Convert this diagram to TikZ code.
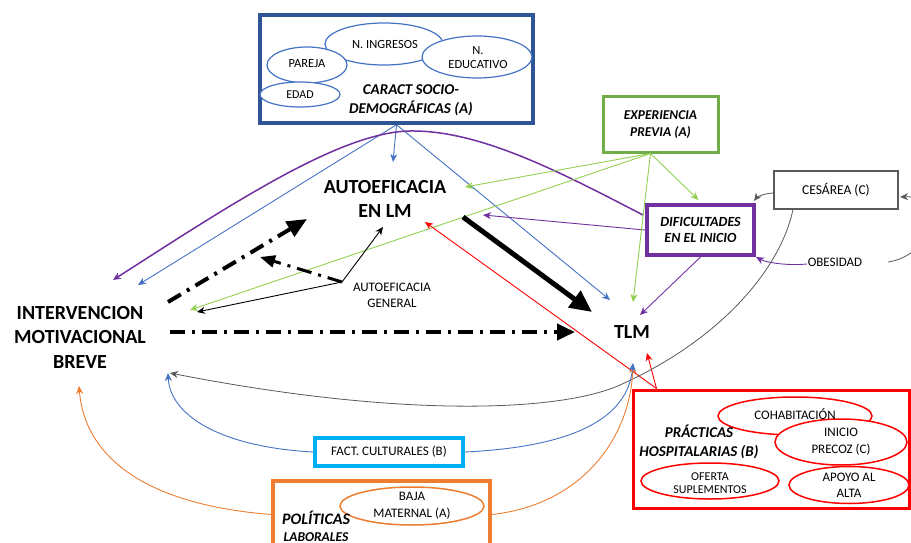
\documentclass[tikz,border=0pt]{standalone}
\usepackage{fontspec}
\setmainfont{Carlito}
\usetikzlibrary{arrows.meta,shapes.geometric,calc}
\definecolor{cdblue}{HTML}{2F5597}
\definecolor{cblue}{HTML}{4472C4}
\definecolor{cgreen}{HTML}{70AD47}
\definecolor{clgreen}{HTML}{92D050}
\definecolor{cpurple}{HTML}{7030A0}
\definecolor{cred}{HTML}{FF0000}
\definecolor{corange}{HTML}{ED7D31}
\definecolor{ccyan}{HTML}{00B0F0}
\definecolor{cgray}{HTML}{595959}
\begin{document}
\begin{tikzpicture}[x=1pt,y=-1pt,
  txt/.style={inner sep=0pt, align=center, text=black},
  sm/.style={txt, font=\fontsize{12.5}{14.5}\selectfont},
  big/.style={txt, font=\bfseries\fontsize{20}{24.5}\selectfont},
  boxx/.style={draw=#1, rectangle, inner sep=0pt, align=center},
  ell/.style={draw=#1, ellipse, fill=white, inner sep=0pt, line width=1.2pt},
  ar/.style={-{Stealth[length=8pt,width=7pt,inset=2.5pt]}, line width=0.9pt},
  dd/.style={dash pattern=on 15pt off 7pt on 3pt off 7pt}
]
\useasboundingbox (0,0) rectangle (911,543);
\clip (0,0) rectangle (911,543);

% ---------- CARACT SOCIO-DEMOGRAFICAS ----------
\node[boxx=cdblue, line width=3.5pt, minimum width=273pt, minimum height=108pt] (caract) at (396.5,69) {};
\node[ell=cblue, minimum width=118pt, minimum height=42pt] (eing) at (384,44) {};
\node[ell=cblue, minimum width=80pt, minimum height=36pt] (epar) at (307,65) {};
\node[ell=cblue, minimum width=110pt, minimum height=42pt] (eedu) at (477,57) {};
\node[ell=cblue, minimum width=80pt, minimum height=25pt] (eedad) at (300,94.5) {};
\node[sm] (ting) at (385,44) {N. INGRESOS};
\node[sm] (tpar) at (307,64) {PAREJA};
\node[sm, font=\fontsize{12.5}{14}\selectfont] (tedu) at (478,58) {N.\\EDUCATIVO};
\node[sm, font=\fontsize{12}{14}\selectfont] (tedad) at (300,95) {EDAD};
\node[txt, font=\bfseries\itshape\fontsize{15}{18.5}\selectfont] (tcar) at (411,100) {CARACT SOCIO-\\DEMOGRÁFICAS (A)};

% ---------- EXPERIENCIA PREVIA ----------
\node[boxx=cgreen, line width=3pt, minimum width=115pt, minimum height=55pt,
      font=\bfseries\itshape\fontsize{13.5}{17}\selectfont] (exp) at (660.5,124.5) {EXPERIENCIA\\PREVIA (A)};

% ---------- DIFICULTADES ----------
\node[boxx=cpurple, line width=4pt, minimum width=107pt, minimum height=50pt,
      font=\bfseries\itshape\fontsize{14}{16.5}\selectfont] (dif) at (700.5,230) {DIFICULTADES\\EN EL INICIO};

% ---------- CESAREA / OBESIDAD ----------
\node[boxx=cgray, line width=1.2pt, minimum width=124pt, minimum height=38pt,
      font=\fontsize{13.5}{16}\selectfont] (ces) at (836,190) {CESÁREA (C)};
\node[txt, font=\fontsize{13}{16}\selectfont] (obes) at (835,262) {OBESIDAD};

% ---------- main nodes ----------
\node[big] (auto) at (385,199) {AUTOEFICACIA\\EN LM};
\node[txt, font=\fontsize{13}{16}\selectfont] (gen) at (392,295) {AUTOEFICACIA\\GENERAL};
\node[big] (int) at (80,337) {INTERVENCION\\MOTIVACIONAL\\BREVE};
\node[big] (tlm) at (632,332) {TLM};

% ---------- FACT CULTURALES ----------
\node[boxx=ccyan, line width=3.5pt, minimum width=148pt, minimum height=28pt,
      font=\fontsize{13}{16}\selectfont] (fact) at (389,452) {FACT. CULTURALES (B)};

% ---------- PRACTICAS HOSPITALARIAS ----------
\node[boxx=cred, line width=3pt, minimum width=276pt, minimum height=118pt] (prac) at (771,449) {};
\node[ell=cred, line width=1.5pt, minimum width=154pt, minimum height=38pt] (ecoh) at (795,416) {};
\node[ell=cred, line width=1.5pt, minimum width=132pt, minimum height=46pt] (eini) at (841,442) {};
\node[ell=cred, line width=1.5pt, minimum width=138pt, minimum height=36pt] (eofe) at (710,481) {};
\node[ell=cred, line width=1.5pt, minimum width=120pt, minimum height=37pt] (eapo) at (849,485) {};
\node[txt, font=\fontsize{13}{15}\selectfont] (tcoh) at (795,414) {COHABITACIÓN};
\node[txt, font=\fontsize{13}{17}\selectfont] (tini) at (841,442) {INICIO\\PRECOZ (C)};
\node[txt, font=\fontsize{12}{13.5}\selectfont] (tofe) at (710,483) {OFERTA\\SUPLEMENTOS};
\node[txt, font=\fontsize{13}{16}\selectfont] (tapo) at (849,485) {APOYO AL\\ALTA};
\node[txt, font=\bfseries\itshape\fontsize{15}{19}\selectfont] (tprac) at (699,442) {PRÁCTICAS\\HOSPITALARIAS (B)};

% ---------- POLITICAS LABORALES ----------
\node[boxx=corange, line width=4pt, minimum width=217pt, minimum height=79pt] (pol) at (381.5,520.5) {};
\node[draw=corange, ellipse, inner sep=0pt, line width=1.5pt, minimum width=144pt, minimum height=38pt] (ebaja) at (412,506) {};
\node[txt, font=\fontsize{13}{17}\selectfont] (tbaja) at (412,506) {BAJA\\MATERNAL (A)};
\node[txt, font=\bfseries\itshape\fontsize{16}{18}\selectfont] (tpol) at (316,518) {POLÍTICAS};
\node[txt, font=\bfseries\itshape\fontsize{13.5}{16}\selectfont] (tlab) at (316,537) {LABORALES};

% ---------- coordinates ----------
\coordinate (hub) at (342,282);
\coordinate (genend) at (260,257);

% ---------- blue from CARACT ----------
\draw[cblue, ar] (caract.south) -- ([shift={(8,-37)}]auto.center);
\draw[cblue, ar] (caract.south) -- ([shift={(58,-52)}]int.center);
\draw[cblue, ar] (caract.south) -- ([shift={(-22,-32)}]tlm.center);

% ---------- purple ----------
\draw[cpurple, ar, line width=1.5pt] ([shift={(-2,-15)}]dif.west)
   .. controls (560,172) and (480,130) .. (410,131)
   .. controls (340,132) and (230,205) .. ([shift={(33,-57)}]int.center);
\draw[cpurple, ar] (dif.west) -- ([shift={(98,16)}]auto.center);
\draw[cpurple, ar] (dif.south) -- ([shift={(8,-17)}]tlm.center);
\draw[cpurple, ar] ([shift={(-28,2)}]obes.center) .. controls (785,266) and (765,262) .. (dif.south east);

% ---------- green ----------
\draw[clgreen, ar] ([shift={(-10,0)}]exp.south) -- ([shift={(80,-12)}]auto.center);
\draw[clgreen, ar] ([shift={(-10,0)}]exp.south) -- ([shift={(110,-27)}]int.center);
\draw[clgreen, ar] ([shift={(-10,0)}]exp.south) -- ([shift={(-2,-3)}]dif.north);
\draw[clgreen, ar] ([shift={(-10,0)}]exp.south) -- ([shift={(1,-30)}]tlm.center);

% ---------- black ----------
\draw[black, line width=5pt, -{Triangle[length=22pt,width=20pt]}] ([shift={(78,18)}]auto.center) -- ([shift={(-40,-20)}]tlm.center);
\draw[black, line width=4pt, dd, -{Triangle[length=18pt,width=16pt]}] ([shift={(90,-5)}]int.center) -- ([shift={(-57,0)}]tlm.center);
\draw[black, line width=4pt, dd, -{Triangle[length=20pt,width=17pt]}] ([shift={(88,-35)}]int.center) -- ([shift={(-78,20)}]auto.center);
\draw[black, line width=3pt, dd, -{Triangle[length=15pt,width=12pt]}] (hub) -- (genend);
\draw[black, ar] (hub) -- ([shift={(-2,28)}]auto.center);
\draw[black, ar] (hub) -- ([shift={(117,-25)}]int.center);

% ---------- red ----------
\draw[cred, ar] ([shift={(25,0)}]prac.north west) -- ([shift={(40,23)}]auto.center);
\draw[cred, ar] ([shift={(25,0)}]prac.north west) -- ([shift={(15,21)}]tlm.center);

% ---------- gray ----------
\draw[cgray, ar, line width=0.8pt] ([shift={(1,3)}]ces.west) .. controls (765,193) and (757,197) .. ([shift={(-2,-2)}]dif.north east);
\draw[cgray, ar, line width=0.8pt] ([shift={(-43,0)}]ces.south)
   .. controls (780,270) and (720,340) .. (620,385)
   .. controls (560,412) and (400,418) .. ([shift={(90,36)}]int.center);
\draw[cgray, ar, line width=0.8pt] ([shift={(53,0)}]obes.center) .. controls (935,255) and (945,195) .. ([shift={(64,7)}]ces.center);

% ---------- orange ----------
\draw[corange, ar] ([shift={(0,-6)}]pol.west) .. controls (150,505) and (85,460) .. ([shift={(-1,49)}]int.center);
\draw[corange, ar] ([shift={(0,-6)}]pol.east) .. controls (580,505) and (630,440) .. ([shift={(1,33)}]tlm.center);

% ---------- blue from FACT ----------
\draw[cblue, ar] (fact.west) .. controls (220,447) and (170,415) .. ([shift={(88,36)}]int.center);
\draw[cblue, ar] (fact.east) .. controls (570,447) and (628,420) .. ([shift={(1,31)}]tlm.center);
\end{tikzpicture}
\end{document}
